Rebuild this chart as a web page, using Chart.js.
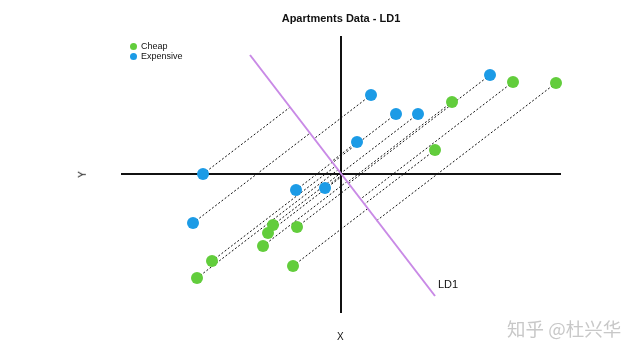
<!DOCTYPE html>
<html>
<head>
<meta charset="utf-8">
<script src="https://cdn.jsdelivr.net/npm/chart.js@4/dist/chart.umd.min.js"></script>
<style>
  body { margin: 0; background: #fff; }
  #wrap { position: relative; width: 640px; height: 352px; font-family: "Liberation Sans", Arial, sans-serif; }
  #chart { position: absolute; left: 0; top: 0; }
  .txt { position: absolute; color: #111; white-space: nowrap; }
  #title { left: 0; width: 682px; top: 12px; text-align: center; font-size: 11px; font-weight: bold; }
  .leg { left: 141px; font-size: 9px; line-height: 10px; }
  .dot { position: absolute; width: 7px; height: 7px; border-radius: 50%; left: -11px; top: 1.5px; }
  #xlab { left: 337px; top: 331px; font-size: 10px; }
  #ylab { left: 79px; top: 169px; font-size: 10px; transform: rotate(-90deg); }
  #ldlab { left: 438px; top: 278px; font-size: 11px; }
  #mark { left: 507px; top: 315px; font-size: 18.5px; color: #c8c8c8; font-family: "Noto Sans CJK SC", sans-serif; }
</style>
</head>
<body>
<div id="wrap">
  <canvas id="chart" width="640" height="352"></canvas>
  <div class="txt" id="title">Apartments Data - LD1</div>
  <div class="txt leg" style="top:41px"><span class="dot" style="background:#62cd3c"></span>Cheap</div>
  <div class="txt leg" style="top:51px"><span class="dot" style="background:#1c9be6"></span>Expensive</div>
  <div class="txt" id="xlab">X</div>
  <div class="txt" id="ylab">Y</div>
  <div class="txt" id="ldlab">LD1</div>
  <div class="txt" id="mark">知乎 @杜兴华</div>
</div>
<script>
/* DATOS */
const cheapX = [8.6, 10.75, 5.55, 4.7, -3.4, -2.2, -3.65, -3.9, -6.45, -7.2, -2.4]
const cheapY = [4.6, 4.55, 3.6, 1.2, -2.55, -2.65, -2.95, -3.6, -4.35, -5.2, -4.6]
const expX = [7.45, 1.5, 2.75, 3.85, 0.8, -6.9, -2.25, -0.8, -7.4]
const expY = [4.95, 3.95, 3.0, 3.0, 1.6, 0, -0.8, -0.7, -2.45]
const ld1X = [-4.55, 4.7]
const ld1Y = [5.95, -6.1]
const axisLen = { x: [-11, 11], y: [-6.95, 6.9] }

/* DIRECCION DE LD1 Y PROYECCION DE CADA PUNTO */
const dx = ld1X[1] - ld1X[0]
const dy = ld1Y[1] - ld1Y[0]
const norm = Math.hypot(dx, dy)
const ux = dx / norm
const uy = dy / norm
const project = (x, y) => {
    const t = x * ux + y * uy
    return { x: t * ux, y: t * uy }
}
const toPoints = (xs, ys) => xs.map((x, i) => ({ x, y: ys[i] }))

const cheap = toPoints(cheapX, cheapY)
const expensive = toPoints(expX, expY)

const dashLines = [...cheap, ...expensive].map(p => ({
    data: [p, project(p.x, p.y)],
    showLine: true,
    borderColor: '#111',
    borderWidth: 1,
    borderDash: [2, 2],
    pointRadius: 0,
    order: 2
}))

const solid = (data, color, width) => ({
    data, showLine: true, borderColor: color, borderWidth: width, pointRadius: 0, order: 3
})

const datasets = [
    { label: 'Cheap', data: cheap, backgroundColor: '#62cd3c', borderWidth: 0, pointRadius: 6, order: 0 },
    { label: 'Expensive', data: expensive, backgroundColor: '#1c9be6', borderWidth: 0, pointRadius: 6, order: 0 },
    ...dashLines,
    solid([{ x: axisLen.x[0], y: 0 }, { x: axisLen.x[1], y: 0 }], '#111', 2),
    solid([{ x: 0, y: axisLen.y[0] }, { x: 0, y: axisLen.y[1] }], '#111', 2),
    { ...solid(toPoints(ld1X, ld1Y), '#c98ae6', 2), order: 1 }
]

new Chart(document.querySelector('#chart'), {
    type: 'scatter',
    data: { datasets },
    options: {
        responsive: false,
        animation: false,
        layout: { padding: 0, autoPadding: false },
        plugins: { legend: { display: false }, tooltip: { enabled: false } },
        scales: {
            x: { type: 'linear', display: false, min: -17.05, max: 14.95 },
            y: { type: 'linear', display: false, min: -8.9, max: 8.7 }
        }
    }
})
</script>
</body>
</html>
